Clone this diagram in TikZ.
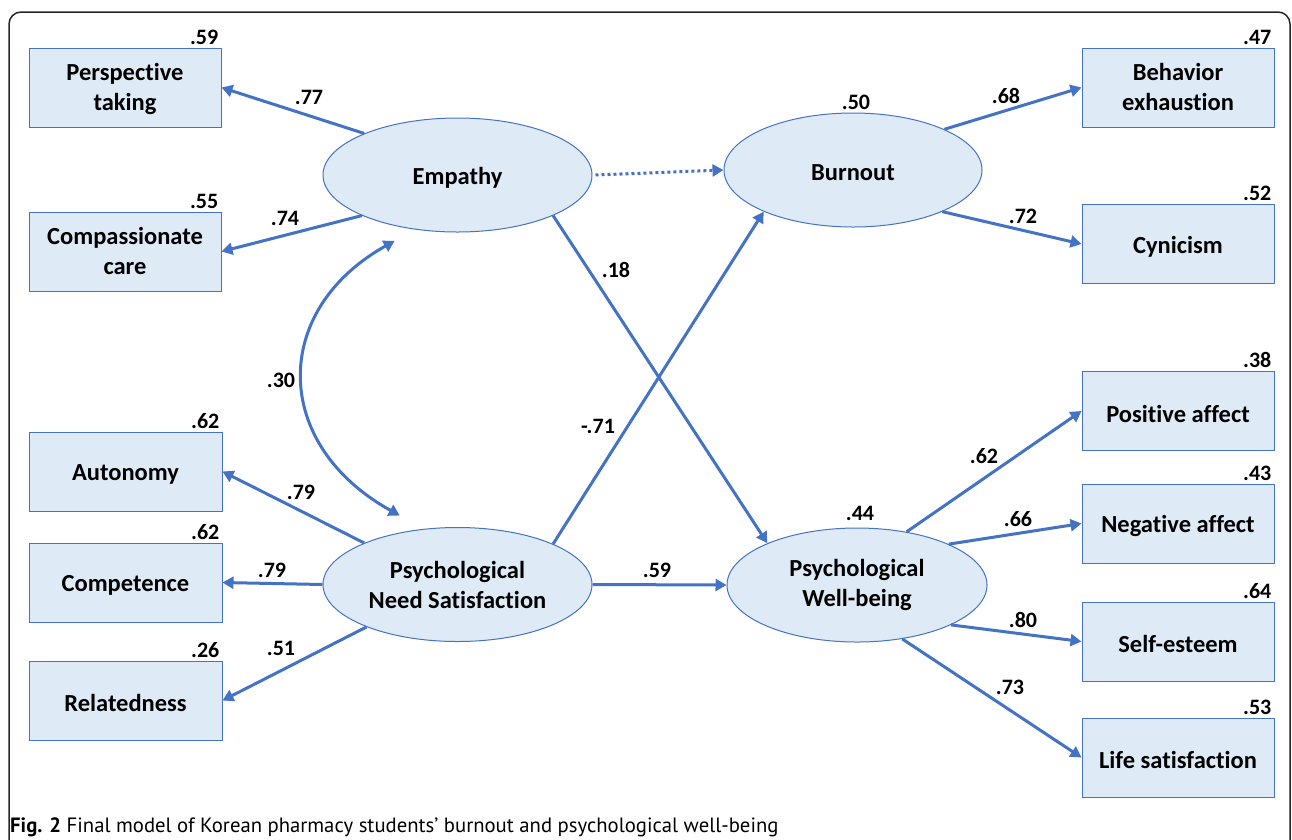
\documentclass[tikz,border=0pt]{standalone}
\usepackage{fontspec}
\setmainfont{Carlito}[Ligatures=NoCommon]
\newfontfamily\capfont{PT Sans}
\usetikzlibrary{arrows.meta,shapes.geometric}
\definecolor{bl}{HTML}{4472C4}
\definecolor{fillb}{HTML}{DEEBF7}
\newcommand\lowtxt[1]{\raisebox{-2.5pt}[\height][\depth]{#1}}
\newcommand\twoln[2]{\raisebox{-2pt}[\height][\depth]{\begin{tabular}{@{}c@{}}#1\\#2\end{tabular}}}
\begin{document}
\begin{tikzpicture}[x=1pt,y=-1pt,
  obs/.style={draw=bl,fill=fillb,line width=1pt,minimum width=192pt,minimum height=79pt,inner sep=0pt,align=center,font=\fontsize{24.5}{30}\selectfont\bfseries},
  lat/.style={ellipse,draw=bl,fill=fillb,line width=1pt,minimum height=114pt,inner sep=0pt,align=center,font=\fontsize{24.5}{30}\selectfont\bfseries},
  coef/.style={inner sep=0pt,font=\fontsize{22}{26}\selectfont\bfseries},
  r2/.style={coef,anchor=south east},
  arr/.style={draw=bl,line width=3pt,-{Triangle[length=11pt,width=12pt]}},
  frame/.style={draw=black!85,line width=1.5pt,rounded corners=12pt},
]
\useasboundingbox (0,0) rectangle (1292,839);
\clip (0,0) rectangle (1292,839);
\draw[frame] (9,12) rectangle (1290,880);

% observed variables
\node[obs] (pt) at (125,87.5) {\twoln{Perspective}{taking}};
\node[obs] (cc) at (125,251.5) {\twoln{Compassionate}{care}};
\node[obs,minimum width=193pt] (au) at (125.5,471.5) {\lowtxt{Autonomy}};
\node[obs,minimum width=193pt] (co) at (125.5,582.5) {\lowtxt{Competence}};
\node[obs,minimum width=193pt] (re) at (125.5,700.5) {\lowtxt{Relatedness}};
\node[obs] (be) at (1178,87.5) {\twoln{Behavior}{exhaustion}};
\node[obs] (cy) at (1178,244) {\lowtxt{Cynicism}};
\node[obs] (pa) at (1178,411) {\lowtxt{Positive affect}};
\node[obs] (na) at (1178,523.5) {\lowtxt{Negative affect}};
\node[obs] (se) at (1178,641.5) {\lowtxt{Self-esteem}};
\node[obs] (ls) at (1178,757.5) {\lowtxt{Life satisfaction}};

% latent variables
\node[lat,minimum width=269pt] (emp) at (457.5,175) {\lowtxt{Empathy}};
\node[lat,minimum width=258pt] (bur) at (853,170) {\lowtxt{Burnout}};
\node[lat,minimum width=269pt] (pns) at (457.5,584.5) {Psychological\\Need Satisfaction};
\node[lat,minimum width=260pt] (pwb) at (857,585) {Psychological\\Well-being};

% R-squared
\node[r2] (r59) at ([xshift=-3pt,yshift=3pt]pt.north east) {.59};
\node[r2] (r55) at ([xshift=-3pt,yshift=3pt]cc.north east) {.55};
\node[r2] (r62a) at ([xshift=-3pt,yshift=3pt]au.north east) {.62};
\node[r2] (r62b) at ([xshift=-3pt,yshift=3pt]co.north east) {.62};
\node[r2] (r26) at ([xshift=-3pt,yshift=3pt]re.north east) {.26};
\node[r2] (r47) at ([xshift=-3pt,yshift=3pt]be.north east) {.47};
\node[r2] (r52) at ([xshift=-3pt,yshift=3pt]cy.north east) {.52};
\node[r2] (r38) at ([xshift=-3pt,yshift=3pt]pa.north east) {.38};
\node[r2] (r43) at ([xshift=-3pt,yshift=3pt]na.north east) {.43};
\node[r2] (r64) at ([xshift=-3pt,yshift=3pt]se.north east) {.64};
\node[r2] (r53) at ([xshift=-3pt,yshift=3pt]ls.north east) {.53};
\node[coef] (r50) at (856,102) {.50};
\node[coef] (r44) at (860,513) {.44};

% paths
\draw[arr] (emp.156) -- (pt.east);
\draw[arr] (emp.203) -- (cc.east);
\draw[arr,dash pattern=on 3pt off 3pt] ([xshift=3pt]emp.east) -- (bur.west);
\draw[arr] (emp.337) -- (pwb.155);
\draw[arr] (pns.23) -- (bur.205);
\draw[arr] (pns.east) -- (pwb.west);
\draw[arr] (pns.156) -- (au.east);
\draw[arr] (pns.west) -- (co.east);
\draw[arr] (pns.205) -- (re.east);
\draw[arr] (bur.24) -- (be.west);
\draw[arr] (bur.335) -- (cy.west);
\draw[arr] (pwb.47) -- (pa.west);
\draw[arr] (pwb.24) -- (na.west);
\draw[arr] (pwb.337) -- (se.west);
\draw[arr] (pwb.310) -- (ls.west);
\draw[draw=bl,line width=3pt,{Triangle[length=11pt,width=12pt]}-{Triangle[length=11pt,width=12pt]}]
  ([yshift=-15pt]emp.219) .. controls (271,310) and (271,444) .. ([yshift=17pt]pns.138);

% path coefficients
\node[coef] (c77) at (309,97) {.77};
\node[coef] (c74) at (285,218) {.74};
\node[coef] (c18) at (616,270) {.18};
\node[coef] (c30) at (281,380) {.30};
\node[coef] (c71) at (598,426) {-.71};
\node[coef] (c79a) at (301,492) {.79};
\node[coef] (c79b) at (272,570) {.79};
\node[coef] (c51) at (281,648) {.51};
\node[coef] (c59) at (657,570) {.59};
\node[coef] (c68) at (1006,96) {.68};
\node[coef] (c72) at (1023,216) {.72};
\node[coef] (c62) at (984,456) {.62};
\node[coef] (c66) at (1018,519) {.66};
\node[coef] (c80) at (1023,620) {.80};
\node[coef] (c73) at (1010,687) {.73};

% caption
\node[anchor=base west,inner sep=0pt,font=\capfont\fontsize{20.7}{24}\selectfont] (cap) at (10,832)
  {\textbf{Fig. 2} Final model of Korean pharmacy students’ burnout and psychological well-being};
\end{tikzpicture}
\end{document}
